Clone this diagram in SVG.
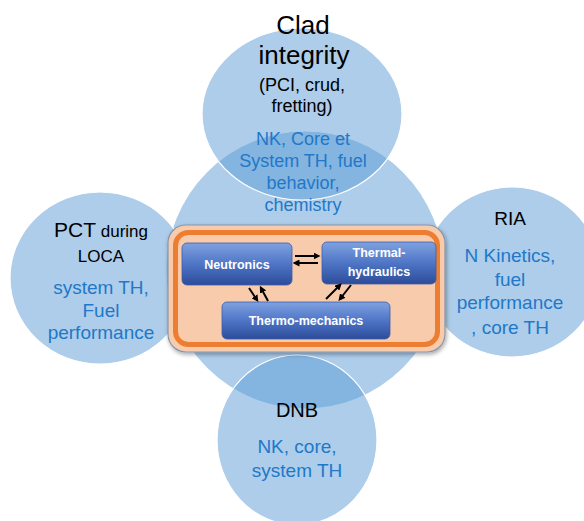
<svg xmlns="http://www.w3.org/2000/svg" width="584" height="521" viewBox="0 0 584 521">
<style>
.c{fill:#5B9BD5;fill-opacity:0.5;stroke:#ffffff;stroke-width:1.2}
.t{font-family:"Liberation Sans",Arial,sans-serif;fill:#000;text-anchor:middle}
.b{font-family:"Liberation Sans",Arial,sans-serif;fill:#1F78C8;text-anchor:middle}
.w{font-family:"Liberation Sans",Arial,sans-serif;fill:#fff;text-anchor:middle;font-weight:bold;font-size:12.5px}
.box{fill:url(#bg);stroke:#3a5da8;stroke-width:0.8}
.ar{stroke:#000;stroke-width:2;fill:none;marker-end:url(#ah)}
</style>
<defs>
<linearGradient id="bg" x1="0" y1="0" x2="0" y2="1">
<stop offset="0" stop-color="#7fa2e0"/>
<stop offset="0.5" stop-color="#4f75c6"/>
<stop offset="1" stop-color="#2c4c9a"/>
</linearGradient>
<marker id="ah" markerWidth="7" markerHeight="7" refX="4.5" refY="3.5" orient="auto" markerUnits="userSpaceOnUse">
<path d="M0,0 L7,3.5 L0,7 Z" fill="#000"/>
</marker>
<filter id="sh" x="-10%" y="-10%" width="120%" height="130%">
<feDropShadow dx="1" dy="2" stdDeviation="2" flood-color="#000" flood-opacity="0.35"/>
</filter>
</defs>

<g id="core-circle"><circle class="c" cx="305" cy="270" r="139"/></g>

<g id="clad">
<ellipse class="c" cx="302" cy="114" rx="100" ry="86"/>
<text class="t" x="303" y="34" font-size="26">Clad</text>
<text class="t" x="304" y="64" font-size="26">integrity</text>
<text class="t" x="302" y="91" font-size="18">(PCI, crud,</text>
<text class="t" x="302" y="112" font-size="18">fretting)</text>
<text class="b" x="303" y="145" font-size="18">NK, Core et</text>
<text class="b" x="303" y="167" font-size="18">System TH, fuel</text>
<text class="b" x="303" y="189" font-size="18">behavior,</text>
<text class="b" x="303" y="211" font-size="18">chemistry</text>
</g>

<g id="pct">
<ellipse class="c" cx="100" cy="278" rx="90" ry="86"/>
<text class="t" x="101" y="237"><tspan font-size="21">PCT</tspan><tspan font-size="17"> during</tspan></text>
<text class="t" x="101" y="262" font-size="17">LOCA</text>
<text class="b" x="101" y="294" font-size="19">system TH,</text>
<text class="b" x="101" y="317" font-size="19">Fuel</text>
<text class="b" x="101" y="339" font-size="19">performance</text>
</g>

<g id="ria">
<ellipse class="c" cx="512" cy="272" rx="88" ry="85"/>
<text class="t" x="510" y="225" font-size="19">RIA</text>
<text class="b" x="510" y="262" font-size="19">N Kinetics,</text>
<text class="b" x="510" y="286" font-size="19">fuel</text>
<text class="b" x="510" y="309" font-size="19">performance</text>
<text class="b" x="510" y="334" font-size="19">, core TH</text>
</g>

<g id="dnb">
<ellipse class="c" cx="297" cy="440" rx="80" ry="85"/>
<text class="t" x="297" y="417" font-size="20">DNB</text>
<text class="b" x="297" y="453" font-size="19">NK, core,</text>
<text class="b" x="297" y="477" font-size="19">system TH</text>
</g>

<g id="frame">
<rect x="168" y="225" width="277" height="127" rx="18" fill="#F8CBAD" stroke="#8796ad" stroke-width="1.2" filter="url(#sh)"/>
<rect x="175.5" y="232.5" width="262" height="112" rx="13" fill="none" stroke="#ED7D31" stroke-width="5"/>
</g>

<g id="neutronics">
<rect class="box" x="182" y="243" width="110" height="42" rx="5"/>
<text class="w" x="237" y="269">Neutronics</text>
</g>
<g id="thermal-hydraulics">
<rect class="box" x="322" y="242" width="114" height="42" rx="5"/>
<text class="w" x="379" y="257">Thermal-</text>
<text class="w" x="379" y="276">hydraulics</text>
</g>
<g id="thermo-mechanics">
<rect class="box" x="222" y="302" width="168" height="37" rx="5"/>
<text class="w" x="306" y="325">Thermo-mechanics</text>
</g>

<g id="connectors">
<line class="ar" x1="295" y1="256" x2="318" y2="256"/>
<line class="ar" x1="318" y1="263" x2="295" y2="263"/>
<line class="ar" x1="249" y1="288" x2="257" y2="300"/>
<line class="ar" x1="268" y1="301" x2="261" y2="288"/>
<line class="ar" x1="326" y1="299" x2="340" y2="285"/>
<line class="ar" x1="351" y1="285" x2="340" y2="299"/>
</g>
</svg>
